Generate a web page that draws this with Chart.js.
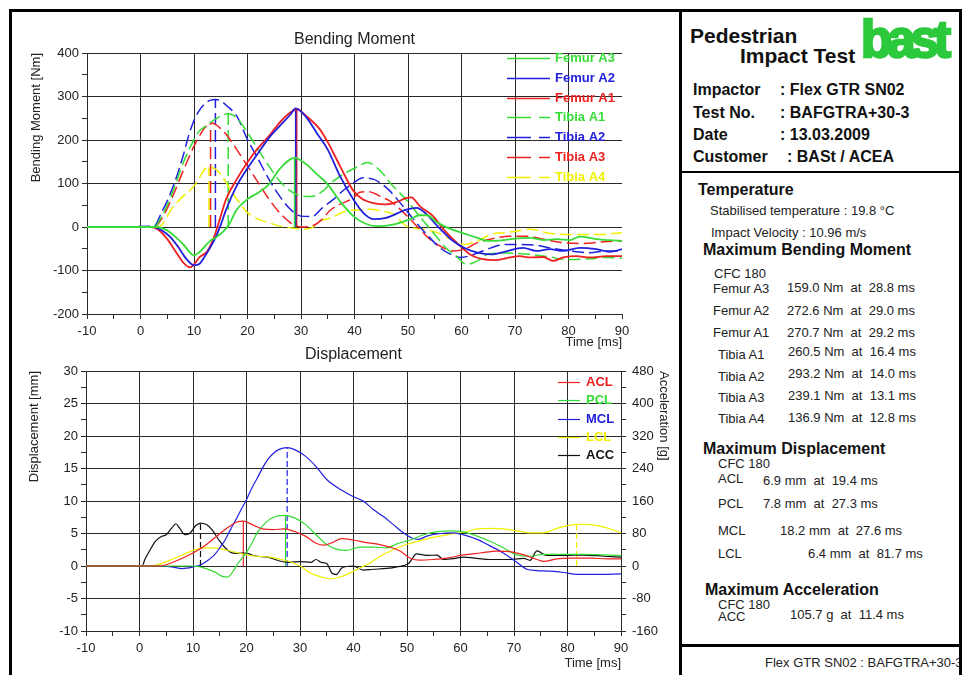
<!DOCTYPE html>
<html>
<head>
<meta charset="utf-8">
<title>Pedestrian Impact Test</title>
<script src="https://cdn.jsdelivr.net/npm/chart.js@4.4.1/dist/chart.umd.min.js"></script>
<style>
  html, body { margin: 0; padding: 0; background: #fff; }
  body { width: 963px; height: 675px; position: relative; overflow: hidden;
         font-family: "Liberation Sans", Arial, sans-serif; color: #111; }
  #frame { position: absolute; left: 9px; top: 9px; width: 947px; height: 720px; border: 3px solid #000; }
  .rule { position: absolute; background: #000; }
  canvas { position: absolute; left: 0; }
  #topChart { top: 0; }
  #bottomChart { top: 340px; }
  .t { position: absolute; white-space: pre; line-height: 20px; height: 20px; }
  .h { font-weight: bold; font-size: 16px; }
  .big { font-weight: bold; font-size: 21px; }
  .s { font-size: 13px; color: #222; }
  #logo { position: absolute; left: 861px; top: 14px; font-weight: bold; font-size: 51px; line-height: 51px;
          letter-spacing: -5px; color: #2bc93b; -webkit-text-stroke: 2.5px #2bc93b; }
  #clip { position: absolute; left: 682px; top: 647px; width: 277px; height: 40px; overflow: hidden; }
</style>
</head>
<body>
<div id="frame"></div>
<div class="rule" style="left:679px;top:9px;width:3px;height:720px"></div>
<div class="rule" style="left:680px;top:171px;width:282px;height:2px"></div>
<div class="rule" style="left:680px;top:644px;width:282px;height:3px"></div>

<canvas id="topChart" width="680" height="350"></canvas>
<canvas id="bottomChart" width="680" height="335"></canvas>

<div class="t big" style="left:690px;top:26px">Pedestrian</div>
<div class="t big" style="left:740px;top:46px">Impact Test</div>
<div id="logo">bast</div>

<div class="t h" style="left:693px;top:80px">Impactor</div>
<div class="t h" style="left:780px;top:80px">: Flex GTR SN02</div>
<div class="t h" style="left:693px;top:103px">Test No.</div>
<div class="t h" style="left:780px;top:103px">: BAFGTRA+30-3</div>
<div class="t h" style="left:693px;top:125px">Date</div>
<div class="t h" style="left:780px;top:125px">: 13.03.2009</div>
<div class="t h" style="left:693px;top:147px">Customer</div>
<div class="t h" style="left:787px;top:147px">: BASt / ACEA</div>

<div class="t h" style="left:698px;top:180px">Temperature</div>
<div class="t s" style="left:710px;top:201px">Stabilised temperature : 19.8 °C</div>
<div class="t s" style="left:711px;top:223px">Impact Velocity : 10.96 m/s</div>
<div class="t h" style="left:703px;top:240px">Maximum Bending Moment</div>
<div class="t s" style="left:714px;top:264px">CFC 180</div>
<div class="t s" style="left:713px;top:279px">Femur A3</div>
<div class="t s" style="left:787px;top:278px">159.0 Nm  at  28.8 ms</div>
<div class="t s" style="left:713px;top:301px">Femur A2</div>
<div class="t s" style="left:787px;top:301px">272.6 Nm  at  29.0 ms</div>
<div class="t s" style="left:713px;top:323px">Femur A1</div>
<div class="t s" style="left:787px;top:323px">270.7 Nm  at  29.2 ms</div>
<div class="t s" style="left:718px;top:345px">Tibia A1</div>
<div class="t s" style="left:788px;top:342px">260.5 Nm  at  16.4 ms</div>
<div class="t s" style="left:718px;top:367px">Tibia A2</div>
<div class="t s" style="left:788px;top:364px">293.2 Nm  at  14.0 ms</div>
<div class="t s" style="left:718px;top:388px">Tibia A3</div>
<div class="t s" style="left:788px;top:386px">239.1 Nm  at  13.1 ms</div>
<div class="t s" style="left:718px;top:409px">Tibia A4</div>
<div class="t s" style="left:788px;top:408px">136.9 Nm  at  12.8 ms</div>

<div class="t h" style="left:703px;top:439px">Maximum Displacement</div>
<div class="t s" style="left:718px;top:454px">CFC 180</div>
<div class="t s" style="left:718px;top:469px">ACL</div>
<div class="t s" style="left:763px;top:471px">6.9 mm  at  19.4 ms</div>
<div class="t s" style="left:718px;top:494px">PCL</div>
<div class="t s" style="left:763px;top:494px">7.8 mm  at  27.3 ms</div>
<div class="t s" style="left:718px;top:521px">MCL</div>
<div class="t s" style="left:780px;top:521px">18.2 mm  at  27.6 ms</div>
<div class="t s" style="left:718px;top:544px">LCL</div>
<div class="t s" style="left:808px;top:544px">6.4 mm  at  81.7 ms</div>

<div class="t h" style="left:705px;top:580px">Maximum Acceleration</div>
<div class="t s" style="left:718px;top:595px">CFC 180</div>
<div class="t s" style="left:718px;top:607px">ACC</div>
<div class="t s" style="left:790px;top:605px">105.7 g  at  11.4 ms</div>

<div id="clip"><div class="t s" style="left:83px;top:6px">Flex GTR SN02 : BAFGTRA+30-3</div></div>

<script>
// ---------- Bending moment: time [ms] / moment [Nm] ----------
const femurA3T = [-10, 3, 5, 6.5, 8, 10, 11, 13, 14, 15.5, 16.5, 18, 20, 22, 24, 26, 28.8, 31, 33, 35, 37.3, 39.8, 42, 44, 46, 48, 50.4, 52.2, 53.5, 55.5, 58, 60.5, 63, 64.9, 68, 70.5, 72.8, 75.3, 77.8, 80.3, 82.1, 85.2, 90];
const femurA3V = [0, 0, -8, -22, -40, -65, -58, -32, -25, -10, 5, 40, 64, 79, 98, 133, 159, 144, 121, 98, 59, 25, 8, 2, 3, 8, 18, 27, 27, 10, -5, -15, -25, -32, -30, -26, -25, -30, -28, -30, -22, -28, -32];

const femurA2T = [-10, 2.5, 4, 5.5, 7, 8.5, 10, 11, 12, 13, 14, 15, 16, 18, 20, 22, 24, 26, 28, 29, 31, 33, 35, 37.3, 39.8, 41.6, 43.5, 45.9, 49.7, 51.6, 53.5, 55.5, 58, 60.5, 63, 65.5, 68, 71.5, 74, 76.5, 79, 82.1, 85.2, 87.7, 90];
const femurA2V = [0, 0, -8, -22, -45, -72, -88, -85, -68, -48, -25, 5, 40, 95, 135, 170, 205, 232, 258, 272.6, 252, 215, 178, 117, 63, 33, 18, 21, 40, 44, 29, 2, -28, -48, -59, -63, -57, -48, -55, -51, -55, -48, -51, -57, -51];

const femurA1T = [-10, 2, 3.5, 5, 6.5, 8, 9.3, 10, 11, 12.5, 13.6, 15, 16, 18, 20, 22, 24, 26, 28, 29.2, 31, 33.5, 35, 37.3, 39.8, 41.6, 43.5, 45.9, 48, 49.7, 50.6, 52.2, 54.7, 56.6, 59.1, 61.6, 64, 66.5, 69, 70.9, 72.8, 75.3, 77.1, 79, 81.5, 84, 87.1, 90];
const femurA1V = [0, 0, -8, -28, -55, -82, -93, -86, -70, -55, -28, 25, 64, 110, 149, 182, 209, 240, 263, 270.7, 255, 225, 195, 140, 83, 63, 55, 52, 58, 67, 68, 48, 25, -5, -36, -63, -74, -76, -70, -67, -70, -69, -78, -70, -67, -70, -67, -67];

const tibiaA1T = [-10, 2.5, 4, 6, 8, 10, 11, 12, 14, 16.4, 18, 20, 22, 24, 26, 28, 30, 32, 34, 36, 38, 40, 42.5, 44, 45.4, 46.6, 48.5, 50, 51.5, 53, 55, 57, 59, 61, 63, 65, 68, 72, 76, 80, 84, 87, 90];
const tibiaA1V = [0, 0, 25, 80, 148, 201, 221, 230, 248, 260.5, 251, 217, 178, 140, 106, 83, 71, 70, 82, 105, 122, 135, 148, 138, 121, 102, 78, 58, 35, 12, -17, -47, -67, -86, -78, -62, -60, -62, -68, -75, -73, -70, -72];

const tibiaA2T = [-10, 2.5, 4, 5, 6, 7, 8, 9, 10, 11, 12, 13, 14, 15, 16, 18, 20, 22, 24, 26, 28, 30, 32, 34, 36, 38, 40, 41.6, 43.5, 45, 46.6, 48.5, 51, 53.5, 56, 58, 59.9, 62.3, 65.5, 68, 71, 74, 76.5, 80.3, 84, 87.1, 90];
const tibiaA2V = [0, 2, 35, 60, 90, 125, 165, 210, 245, 268, 283, 291, 293.2, 290, 280, 255, 201, 156, 110, 71, 41, 25, 24, 44, 63, 85, 103, 113, 110, 100, 83, 56, 18, -17, -48, -63, -70, -63, -48, -40, -40, -42, -48, -55, -59, -55, -55];

const tibiaA3T = [-10, 2.5, 4, 6, 8, 10, 11, 12, 13.1, 14, 16, 18, 20, 22, 24, 26, 28, 30, 32, 34, 35.4, 37.3, 39.8, 41, 42.5, 45.4, 46.6, 48.5, 50.4, 52.2, 54.1, 56.6, 58.5, 60.5, 63, 66.5, 69, 72.2, 75.3, 79, 82.7, 86.6, 90];
const tibiaA3V = [0, 0, 20, 70, 130, 186, 209, 228, 239.1, 236, 213, 178, 140, 102, 64, 33, 10, 0, 2, 18, 38, 52, 67, 80, 81, 67, 60, 41, 18, -5, -28, -48, -55, -51, -36, -25, -21, -21, -28, -36, -38, -34, -32];

const tibiaA4T = [-10, 3, 4, 5, 6, 8, 10, 11, 12, 12.8, 14, 15, 16, 18, 20, 22, 24, 26, 28, 30, 32, 33.5, 35.4, 38.5, 40.4, 42.9, 45.4, 47.3, 49.7, 52.8, 55.5, 58, 60.5, 63, 65.5, 68, 70.5, 72.8, 75.9, 79, 82.7, 86.6, 90];
const tibiaA4V = [0, 0, 5, 25, 45, 71, 94, 113, 133, 136.9, 133, 121, 102, 64, 33, 18, 10, 2, -2, -5, -2, 14, 20, 37, 39, 41, 36, 29, 2, -5, -13, -28, -40, -32, -17, -13, -9, -5, -13, -17, -17, -17, -13];

// maxima from the report panel
const bendingNames = ['Femur A3', 'Femur A2', 'Femur A1', 'Tibia A1', 'Tibia A2', 'Tibia A3', 'Tibia A4'];
const bendingPeakT = [28.8, 29.0, 29.2, 16.4, 14.0, 13.1, 12.8];
const bendingPeakV = [159.0, 272.6, 270.7, 260.5, 293.2, 239.1, 136.9];

// ---------- Displacement [mm] and acceleration [g] ----------
const aclT = [-10, 4, 5, 8, 10, 12, 14, 16, 18, 19.4, 21, 23, 25, 27, 29, 31, 33, 34.5, 36, 37.8, 39.9, 42.4, 44.9, 46.8, 48.7, 50.6, 52.4, 54.9, 57.4, 60.6, 63.7, 66.8, 69.3, 71.8, 74.3, 75.5, 78, 80.5, 84.3, 87.4, 90];
const aclV = [0, 0, 0.2, 1.2, 2, 3, 4.3, 5.6, 6.7, 6.9, 6.4, 5.7, 5.6, 5.7, 5.3, 4.6, 3.5, 3.2, 3.6, 4.2, 4, 3.6, 3.3, 2.9, 2.3, 1.2, 0.9, 1, 1.2, 1.7, 2, 2.3, 2.2, 1.7, 1, 0.7, 1.1, 1.2, 1.2, 1.1, 1.1];

const pclT = [-10, 8, 10, 12, 14, 15.5, 16.5, 17.5, 18.5, 20, 21, 22, 23.5, 25, 27.3, 29, 31, 33, 35, 36.8, 38.7, 41.2, 43.7, 46.2, 48.1, 50.6, 53.1, 55.6, 58.1, 60.6, 63.1, 65.5, 68, 70.5, 73, 75.5, 79.3, 83, 86.8, 90];
const pclV = [0, 0, 0, -0.3, -0.9, -1.6, -1.7, -0.8, 0.5, 2.1, 3.5, 5.1, 6.6, 7.5, 7.8, 7.4, 6.4, 4.8, 3.3, 2.6, 2.4, 2.9, 2.9, 2.8, 3.4, 4, 4.8, 5.3, 5.4, 5.2, 4.6, 3.8, 2.8, 1.7, 1.5, 1.8, 1.8, 1.8, 1.7, 1.6];

const mclT = [-10, 4, 6, 8, 10, 11.5, 13, 14, 15, 16, 17, 18, 19, 20, 21, 22, 23, 24, 25, 26, 27.6, 29, 31, 33, 35, 37.5, 39.9, 41.8, 43.7, 45.6, 47.4, 49.3, 50.9, 52.1, 53.7, 56.2, 58.7, 60.6, 63.1, 65.5, 68, 70.5, 72.4, 74.3, 76.8, 79.3, 81.8, 85.5, 90];
const mclV = [0, 0, -0.15, -0.4, -0.15, 0.2, 1, 1.7, 2.8, 4, 5.6, 7.1, 8.7, 10.2, 12, 13.5, 15.1, 16.4, 17.3, 17.9, 18.2, 17.9, 16.9, 15.3, 13.3, 11.8, 10.7, 10, 8.7, 7.6, 6.4, 5.1, 4.3, 4.1, 4.6, 5, 5.1, 4.8, 4.1, 3.1, 2, 0.56, -0.5, -0.7, -0.8, -1, -1.3, -1.3, -1.2];

const lclT = [-10, 1, 2, 4, 6, 8, 10, 12, 14, 16, 18, 20, 22, 24, 26, 28, 30, 32, 34, 35.6, 37.5, 39.3, 41.2, 43.1, 45, 47.4, 49.9, 52.4, 54.9, 57.4, 60.6, 63.1, 65.5, 68, 70.5, 73, 75.5, 78, 80.5, 81.7, 83, 85.5, 88, 90];
const lclV = [0, 0, 0, 0.36, 1, 1.7, 2.4, 2.8, 2.8, 2.5, 2.1, 1.7, 1.5, 1.4, 1.1, 0.7, 0, -1.1, -1.7, -2, -1.7, -1.1, -0.3, 0.46, 1.5, 2.5, 3.3, 3.9, 4.4, 4.8, 5.2, 5.7, 5.8, 5.7, 5.4, 5.1, 5.1, 5.8, 6.3, 6.4, 6.4, 6.2, 5.7, 5.1];

const accT = [-10, 0.5, 1, 2, 3, 4, 5, 6, 6.8, 7.5, 8.5, 9.5, 10.5, 11.4, 12.5, 13.5, 15, 16, 17, 18, 20, 21, 22, 24, 26, 28, 30, 32, 33, 34, 35, 36, 36.8, 37.8, 39.9, 41.8, 43.7, 46.2, 48.1, 50.3, 51.8, 53.7, 55.6, 56.8, 58.7, 60.6, 63.1, 65.5, 69.3, 71.8, 73, 74.3, 76.1, 79.3, 83, 86.8, 90];
const accV = [0, 0, 16, 40, 61, 72, 77, 93, 104, 93, 77, 82, 99, 105.7, 102, 90, 61, 45, 34, 31, 32, 27, 24, 22, 13, 9, 11, 9, 16, 9, 6, -18, -21, -5, 0, -10, -8, -6, -2, 6, 30, 26, 27, 16, 18, 22, 19, 16, 16, 19, 14, 37, 26, 26, 27, 24, 22];

const dispNames = ['ACL', 'PCL', 'MCL', 'LCL', 'ACC'];
const dispPeakT = [19.4, 27.3, 27.6, 81.7, 11.4];
const dispPeakV = [6.9, 7.8, 18.2, 6.4, 105.7];

// ---------- styling ----------
const RED = '#ee2020', GREEN = '#35dc35', BLUE = '#2020dd', YELLOW = '#f0f000', BLACK = '#111111';
const GRID = '#2a2a2a';
const CLEAR = 'rgba(0,0,0,0)';
const FONT = '"Liberation Sans", Arial, sans-serif';
Chart.defaults.font.family = FONT;
Chart.defaults.color = '#222';

const pts = (t, v) => t.map((x, i) => ({ x, y: v[i] }));

const bending = [
  { t: femurA3T, v: femurA3V, color: GREEN, dash: [] },
  { t: femurA2T, v: femurA2V, color: BLUE, dash: [] },
  { t: femurA1T, v: femurA1V, color: RED, dash: [] },
  { t: tibiaA1T, v: tibiaA1V, color: GREEN, dash: [12, 5] },
  { t: tibiaA2T, v: tibiaA2V, color: BLUE, dash: [12, 5] },
  { t: tibiaA3T, v: tibiaA3V, color: RED, dash: [12, 5] },
  { t: tibiaA4T, v: tibiaA4V, color: YELLOW, dash: [12, 5] }
];
const disp = [
  { t: aclT, v: aclV, color: RED, mark: [], axis: 'y' },
  { t: pclT, v: pclV, color: GREEN, mark: [], axis: 'y' },
  { t: mclT, v: mclV, color: BLUE, mark: [6, 3], axis: 'y' },
  { t: lclT, v: lclV, color: YELLOW, mark: [6, 3], axis: 'y' },
  { t: accT, v: accV, color: BLACK, mark: [6, 3], axis: 'y1' }
];

// title + legend inside the plot
const insideLegend = {
  id: 'insideLegend',
  afterDraw(chart, args, o) {
    const ctx = chart.ctx;
    ctx.save();
    ctx.textBaseline = 'middle';
    ctx.font = '16px ' + FONT;
    ctx.fillStyle = '#222';
    ctx.textAlign = 'center';
    ctx.fillText(o.title, (chart.chartArea.left + chart.chartArea.right) / 2, o.titleY);
    ctx.textAlign = 'left';
    ctx.font = 'bold 13px ' + FONT;
    o.items.forEach((it, i) => {
      const y = Math.round(o.y + i * o.dy) + 0.5;
      ctx.strokeStyle = it.color;
      ctx.lineWidth = o.lineWidth;
      ctx.setLineDash(it.dash);
      ctx.beginPath();
      ctx.moveTo(o.x0, y);
      ctx.lineTo(o.x1, y);
      ctx.stroke();
      ctx.fillStyle = it.color;
      ctx.fillText(it.name, o.tx, y);
    });
    ctx.restore();
  }
};

function xAxis(height, titlePad, hide90) {
  return {
    type: 'linear', min: -10, max: 90,
    afterFit: s => { s.height = height; },
    ticks: { stepSize: 5, autoSkip: false, maxRotation: 0, padding: 5, font: { size: 13 },
             callback: v => (v % 10 === 0 ? String(v) : '') },
    grid: { color: c => (c.tick && c.tick.value % 10 === 0 && !(hide90 && c.tick.value === 90)) ? GRID : CLEAR,
            tickColor: GRID, tickLength: 5, lineWidth: 1 },
    border: { display: true, color: GRID },
    title: { display: true, text: 'Time [ms]', align: 'end', font: { size: 13 }, padding: { top: 0, bottom: titlePad } }
  };
}

function yAxis(min, max, step, major, width, title, titlePad) {
  return {
    min, max,
    afterFit: s => { s.width = width; },
    ticks: { stepSize: step, autoSkip: false, padding: 3, font: { size: 13 },
             callback: v => (v % major === 0 ? String(v) : '') },
    grid: { color: c => (c.tick && c.tick.value % major === 0) ? GRID : CLEAR, tickColor: GRID, tickLength: 5, lineWidth: 1 },
    border: { display: true, color: GRID },
    title: { display: true, text: title, align: 'end', font: { size: 13 }, padding: { top: titlePad, bottom: 0 } }
  };
}

const baseOpts = {
  responsive: false,
  animation: false,
  events: [],
  elements: { point: { radius: 0 } }
};

// ---- top chart ----
const topSets = [];
bending.forEach((s, i) => {
  topSets.push({ label: bendingNames[i], data: pts(s.t, s.v), borderColor: s.color, borderWidth: s.dash.length ? 1.5 : 1.8,
                 borderDash: s.dash, cubicInterpolationMode: 'monotone', fill: false });
});
bending.forEach((s, i) => {
  topSets.push({ label: bendingNames[i] + ' max', data: [{ x: bendingPeakT[i], y: 0 }, { x: bendingPeakT[i], y: bendingPeakV[i] }],
                 borderColor: s.color, borderWidth: 1.5, borderDash: s.dash, fill: false });
});

new Chart(document.getElementById('topChart'), {
  type: 'line',
  data: { datasets: topSets },
  options: Object.assign({}, baseOpts, {
    layout: { padding: { left: 0, right: 58, top: 53, bottom: 0 } },
    scales: {
      x: xAxis(36, 0, true),
      y: yAxis(-200, 400, 50, 100, 87, 'Bending Moment [Nm]', 29)
    },
    plugins: {
      legend: { display: false }, tooltip: { enabled: false },
      insideLegend: {
        title: 'Bending Moment', titleY: 40,
        x0: 507, x1: 550, tx: 555, y: 58, dy: 19.8, lineWidth: 1.5,
        items: bending.map((s, i) => ({ name: bendingNames[i], color: s.color, dash: s.dash.length ? [24, 8] : [] }))
      }
    }
  }),
  plugins: [insideLegend]
});

// ---- bottom chart ----
const botSets = [];
disp.forEach((s, i) => {
  botSets.push({ label: dispNames[i], data: pts(s.t, s.v), yAxisID: s.axis, borderColor: s.color, borderWidth: 1.2,
                 cubicInterpolationMode: 'monotone', fill: false });
});
disp.forEach((s, i) => {
  botSets.push({ label: dispNames[i] + ' max', data: [{ x: dispPeakT[i], y: 0 }, { x: dispPeakT[i], y: dispPeakV[i] }],
                 yAxisID: s.axis, borderColor: s.color, borderWidth: 1.2, borderDash: s.mark, fill: false });
});

const accAxis = yAxis(-160, 480, 40, 80, 59, 'Acceleration [g]', 9);
accAxis.position = 'right';
accAxis.grid = { drawOnChartArea: false, color: GRID, tickColor: GRID, tickLength: 5 };
accAxis.ticks.padding = 6;

new Chart(document.getElementById('bottomChart'), {
  type: 'line',
  data: { datasets: botSets },
  options: Object.assign({}, baseOpts, {
    layout: { padding: { left: 0, right: 0, top: 31, bottom: 0 } },
    scales: {
      x: xAxis(44, 4, false),
      y: yAxis(-10, 30, 2.5, 5, 86, 'Displacement [mm]', 27),
      y1: accAxis
    },
    plugins: {
      legend: { display: false }, tooltip: { enabled: false },
      insideLegend: {
        title: 'Displacement', titleY: 15,
        x0: 558, x1: 580, tx: 586, y: 42, dy: 18.3, lineWidth: 1.2,
        items: disp.map((s, i) => ({ name: dispNames[i], color: s.color, dash: [] }))
      }
    }
  }),
  plugins: [insideLegend]
});
</script>
</body>
</html>
